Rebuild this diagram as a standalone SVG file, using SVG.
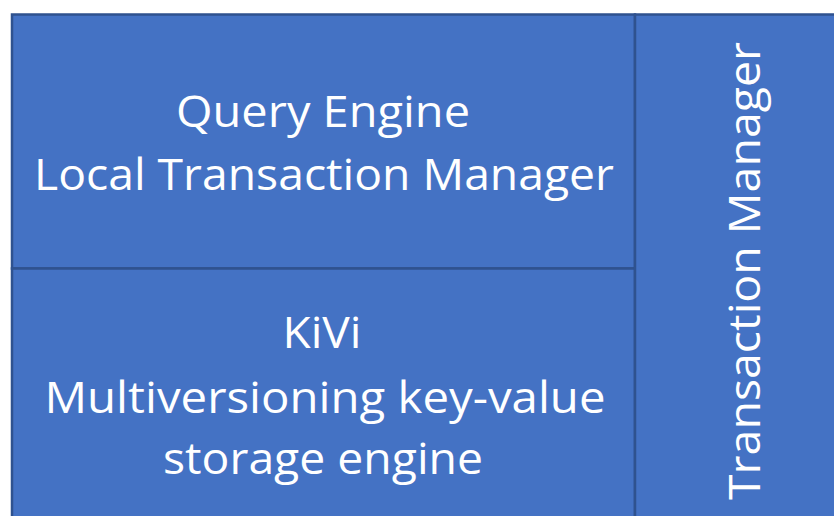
<svg xmlns="http://www.w3.org/2000/svg" width="834" height="516" viewBox="0 0 834 516">
<style>
.box{fill:#4472C4;stroke:#2F528F;stroke-width:2.5}
.t{font-family:"Open Sans","Liberation Sans",sans-serif;font-size:44px;fill:#FFFFFF;text-anchor:middle}
</style>
<rect width="834" height="516" fill="#FFFFFF"/>
<g id="query-engine">
<rect class="box" x="12" y="14.5" width="623" height="254"/>
<text class="t" x="323" y="127" textLength="294" lengthAdjust="spacingAndGlyphs">Query Engine</text>
<text class="t" x="324" y="190" textLength="580" lengthAdjust="spacingAndGlyphs">Local Transaction Manager</text>
</g>
<g id="kivi">
<rect class="box" x="12" y="268.5" width="623" height="260"/>
<text class="t" x="322" y="348" textLength="79" lengthAdjust="spacingAndGlyphs">KiVi</text>
<text class="t" x="325" y="413" textLength="561" lengthAdjust="spacingAndGlyphs">Multiversioning key-value</text>
<text class="t" x="323" y="474" textLength="320" lengthAdjust="spacingAndGlyphs">storage engine</text>
</g>
<g id="transaction-manager">
<rect class="box" x="635" y="14.5" width="215" height="520"/>
<text class="t" transform="translate(760,271) rotate(-90)" x="0" y="0" textLength="458" lengthAdjust="spacingAndGlyphs">Transaction Manager</text>
</g>
<g id="connectors"></g>
</svg>
